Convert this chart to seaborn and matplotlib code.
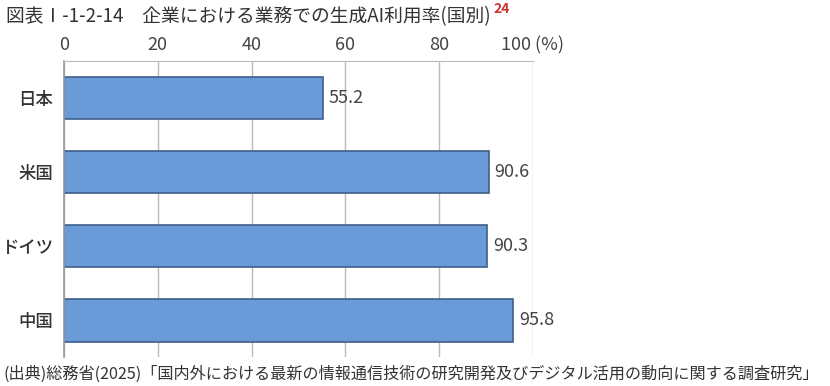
import matplotlib
matplotlib.use("Agg")
import matplotlib.pyplot as plt
import numpy as np
import pandas as pd
import seaborn as sns

# data
countries = ["日本", "米国", "ドイツ", "中国"]
usage_rate = [55.2, 90.6, 90.3, 95.8]
x_ticks = [0, 20, 40, 60, 80, 100]
x_tick_labels = ["0", "20", "40", "60", "80", "100 (%)"]

TITLE = "図表Ⅰ-1-2-14　企業における業務での生成AI利用率(国別)"
SOURCE = "(出典)総務省(2025)「国内外における最新の情報通信技術の研究開発及びデジタル活用の動向に関する調査研究」"

sns.set_style("white")
plt.rcParams["font.family"] = ["Noto Sans CJK JP", "DejaVu Sans"]

df = pd.DataFrame({"country": countries, "rate": usage_rate})

fig = plt.figure(figsize=(8.3, 3.86), dpi=100)
ax = fig.add_axes([0.0771, 0.075, 0.565, 0.767])

sns.barplot(data=df, x="rate", y="country", orient="h", color="#6a9bd8",
            edgecolor="#3e5f8a", linewidth=1.2, width=0.58, saturation=1, ax=ax)

for i, v in enumerate(usage_rate):
    ax.text(v + 1.2, i, f"{v:.1f}", va="center", ha="left", fontsize=13, color="#444444")

ax.set_xlim(0, 100)
ax.set_ylim(3.5, -0.5)
ax.xaxis.tick_top()
ax.set_xticks(x_ticks)
ax.set_xticklabels(x_tick_labels, fontsize=13, color="#444444")
ax.tick_params(axis="x", length=0, pad=5)
ax.xaxis.grid(True, color="#bbbbbb", linewidth=1)
ax.set_axisbelow(True)

ax.set_yticks(range(len(countries)))
ax.set_yticklabels(countries, fontsize=12.5, color="#333333", fontweight="medium")
ax.set_yticks([-0.5, 0.5, 1.5, 2.5, 3.5], minor=True)
ax.tick_params(axis="y", which="major", length=0, pad=8)
ax.tick_params(axis="y", which="minor", length=5, color="#999999", width=1.2, direction="out")
ax.set_xlabel("")
ax.set_ylabel("")

for s in ["right", "bottom"]:
    ax.spines[s].set_visible(False)
ax.spines["top"].set_color("#bbbbbb")
ax.spines["left"].set_color("#999999")
ax.spines["left"].set_linewidth(1.2)

t = fig.text(0.007, 0.985, TITLE, fontsize=13.5, color="#333333", va="top", ha="left")
fig.canvas.draw()
bb = t.get_window_extent().transformed(fig.transFigure.inverted())
fig.text(bb.x1 + 0.004, 0.995, "24", fontsize=10, color="#d0312d", va="top", ha="left", fontweight="bold")
fig.text(0.004, 0.008, SOURCE, fontsize=11.6, color="#333333", va="bottom", ha="left")

fig.savefig("out.png", dpi=100)
